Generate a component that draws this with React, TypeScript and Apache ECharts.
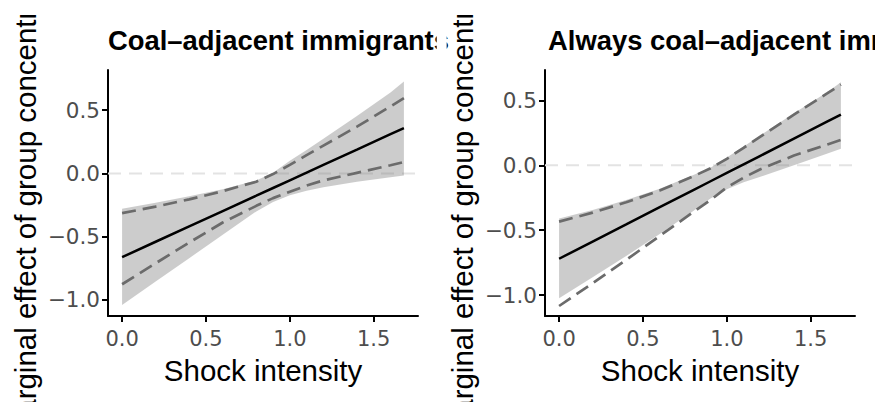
import React, { useEffect, useRef } from "react";
import * as echarts from "echarts";

// ---- data ----
const X = [0, 0.2, 0.4, 0.6, 0.8, 0.9, 1.0, 1.1, 1.2, 1.4, 1.6, 1.68];

const solidL = [-0.662, -0.54, -0.419, -0.297, -0.176, -0.115, -0.054, 0.007, 0.068, 0.189, 0.311, 0.359];
const bandUpL = [-0.28, -0.232, -0.18, -0.125, -0.055, 0.005, 0.1, 0.185, 0.275, 0.455, 0.64, 0.728];
const bandLoL = [-1.04, -0.855, -0.67, -0.485, -0.3, -0.225, -0.172, -0.136, -0.11, -0.066, -0.03, -0.017];
const dashUpL = [-0.314, -0.262, -0.205, -0.14, -0.065, -0.005, 0.068, 0.145, 0.22, 0.37, 0.53, 0.596];
const dashLoL = [-0.876, -0.71, -0.546, -0.388, -0.256, -0.195, -0.145, -0.095, -0.055, 0.005, 0.065, 0.09];

const solidR = [-0.72, -0.588, -0.456, -0.323, -0.191, -0.125, -0.059, 0.007, 0.073, 0.205, 0.338, 0.39];
const bandUpR = [-0.41, -0.345, -0.268, -0.18, -0.075, -0.02, 0.06, 0.145, 0.23, 0.4, 0.565, 0.64];
const bandLoR = [-1.025, -0.863, -0.699, -0.529, -0.352, -0.258, -0.185, -0.13, -0.088, 0.0, 0.09, 0.128];
const dashUpR = [-0.434, -0.365, -0.285, -0.195, -0.085, -0.025, 0.05, 0.135, 0.22, 0.39, 0.555, 0.622];
const dashLoR = [-1.084, -0.909, -0.729, -0.544, -0.36, -0.27, -0.17, -0.095, -0.03, 0.075, 0.16, 0.195];

const X_TICKS = [0, 0.5, 1.0, 1.5];
const Y_TICKS = [-1.0, -0.5, 0.0, 0.5];
const REF_Y = 0;

const TITLES = ["Coal–adjacent immigrants", "Always coal–adjacent immigrants"];
const X_TITLE = "Shock intensity";
const Y_TITLE = "Marginal effect of group concentration";

const X_RANGE = [-0.084, 1.764];
const Y_RANGES = [
  [-1.127, 0.818],
  [-1.161, 0.734],
];

const FONT = "'Liberation Sans', Arial, Helvetica, sans-serif";
const TICK_FONT = "'DejaVu Sans', 'Liberation Sans', sans-serif";

const panels = [
  { solid: solidL, up: bandUpL, lo: bandLoL, du: dashUpL, dl: dashLoL },
  { solid: solidR, up: bandUpR, lo: bandLoR, du: dashUpR, dl: dashLoR },
];

const GRID_LEFT = [108, 545];
const GRID_TOP = 70;
const GRID_W = 310;
const GRID_H = 246;

const fmt = (v: number) => v.toFixed(1).replace("-", "\u2212");

function buildOption() {
  const grid = GRID_LEFT.map((l) => ({ left: l, top: GRID_TOP, width: GRID_W, height: GRID_H }));
  const axisLineStyle = { color: "#000", width: 2 };
  const xAxis = GRID_LEFT.map((_, i) => ({
    type: "value",
    gridIndex: i,
    min: X_RANGE[0],
    max: X_RANGE[1],
    axisLine: { show: true, onZero: false, lineStyle: axisLineStyle },
    axisTick: { show: true, customValues: X_TICKS, length: 6, lineStyle: axisLineStyle },
    axisLabel: {
      customValues: X_TICKS,
      formatter: fmt,
      color: "#4d4d4d",
      fontSize: 21,
      fontFamily: TICK_FONT,
      margin: 12,
    },
    splitLine: { show: false },
  }));
  const yAxis = GRID_LEFT.map((_, i) => ({
    type: "value",
    gridIndex: i,
    min: Y_RANGES[i][0],
    max: Y_RANGES[i][1],
    axisLine: { show: true, onZero: false, lineStyle: axisLineStyle },
    axisTick: { show: true, customValues: Y_TICKS, length: 6, lineStyle: axisLineStyle },
    axisLabel: {
      customValues: Y_TICKS,
      formatter: fmt,
      color: "#4d4d4d",
      fontSize: 21.5,
      fontFamily: TICK_FONT,
      margin: 8,
    },
    splitLine: { show: false },
  }));

  const series: any[] = [];
  panels.forEach((p, i) => {
    series.push({
      type: "line",
      xAxisIndex: i,
      yAxisIndex: i,
      data: [
        [X_RANGE[0], REF_Y],
        [X_RANGE[1], REF_Y],
      ],
      symbol: "none",
      silent: true,
      z: 1,
      lineStyle: { color: "#e3e3e3", width: 2, type: [13, 8] },
    });
    series.push({
      type: "custom",
      xAxisIndex: i,
      yAxisIndex: i,
      data: [[0, 0]],
      z: 2,
      silent: true,
      renderItem: (params: any, api: any) => {
        if (params.dataIndex !== 0) return null;
        const pts: number[][] = [];
        X.forEach((x, k) => pts.push(api.coord([x, p.up[k]])));
        for (let k = X.length - 1; k >= 0; k--) pts.push(api.coord([X[k], p.lo[k]]));
        return {
          type: "polygon",
          shape: { points: pts },
          style: { fill: "rgba(127,127,127,0.4)" },
        };
      },
    });
    [p.du, p.dl].forEach((arr) => {
      series.push({
        type: "line",
        xAxisIndex: i,
        yAxisIndex: i,
        data: X.map((x, k) => [x, arr[k]]),
        symbol: "none",
        silent: true,
        z: 3,
        lineStyle: { color: "#6b6b6b", width: 2.7, type: [14, 7] },
      });
    });
    series.push({
      type: "line",
      xAxisIndex: i,
      yAxisIndex: i,
      data: X.map((x, k) => [x, p.solid[k]]),
      symbol: "none",
      silent: true,
      z: 4,
      lineStyle: { color: "#000", width: 2.5 },
    });
  });

  const graphic: any[] = [];
  const titleX = [108, 548];
  const yTitleX = [25, 462];
  GRID_LEFT.forEach((l, i) => {
    graphic.push({
      type: "text",
      x: titleX[i],
      y: 40.5,
      z: 10,
      style: {
        text: TITLES[i],
        fontSize: 27.4,
        fontWeight: "bold",
        fontFamily: FONT,
        fill: "#000",
        textAlign: "left",
        textVerticalAlign: "middle",
      },
    });
    graphic.push({
      type: "text",
      x: l + GRID_W / 2,
      y: 370,
      z: 10,
      style: {
        text: X_TITLE,
        fontSize: 29.5,
        fontFamily: FONT,
        fill: "#000",
        textAlign: "center",
        textVerticalAlign: "middle",
      },
    });
    graphic.push({
      type: "text",
      x: yTitleX[i],
      y: GRID_TOP + GRID_H / 2,
      rotation: Math.PI / 2,
      z: 10,
      style: {
        text: Y_TITLE,
        fontSize: 29.5,
        fontFamily: FONT,
        fill: "#000",
        textAlign: "center",
        textVerticalAlign: "middle",
      },
    });
    // panel clipping masks (reference crops the overflowing texts)
    graphic.push({
      type: "rect",
      z: 20,
      shape: { x: yTitleX[i] - 25, y: 0, width: 50, height: 15 },
      style: { fill: "#fff" },
      silent: true,
    });
  });
  graphic.push({
    type: "rect",
    z: 20,
    shape: { x: 436.7, y: 20, width: 10, height: 45 },
    style: { fill: "#fff" },
    silent: true,
  });

  return {
    animation: false,
    backgroundColor: "#fff",
    grid,
    xAxis,
    yAxis,
    series,
    graphic,
  };
}

export default function App() {
  const ref = useRef<HTMLDivElement>(null);
  useEffect(() => {
    if (!ref.current) return;
    const chart = echarts.init(ref.current, undefined, { renderer: "svg" });
    chart.setOption(buildOption() as any);
    return () => chart.dispose();
  }, []);
  return (
    <div
      ref={ref}
      style={{ position: "fixed", left: 0, top: 0, width: 875, height: 402, background: "#fff" }}
    />
  );
}
